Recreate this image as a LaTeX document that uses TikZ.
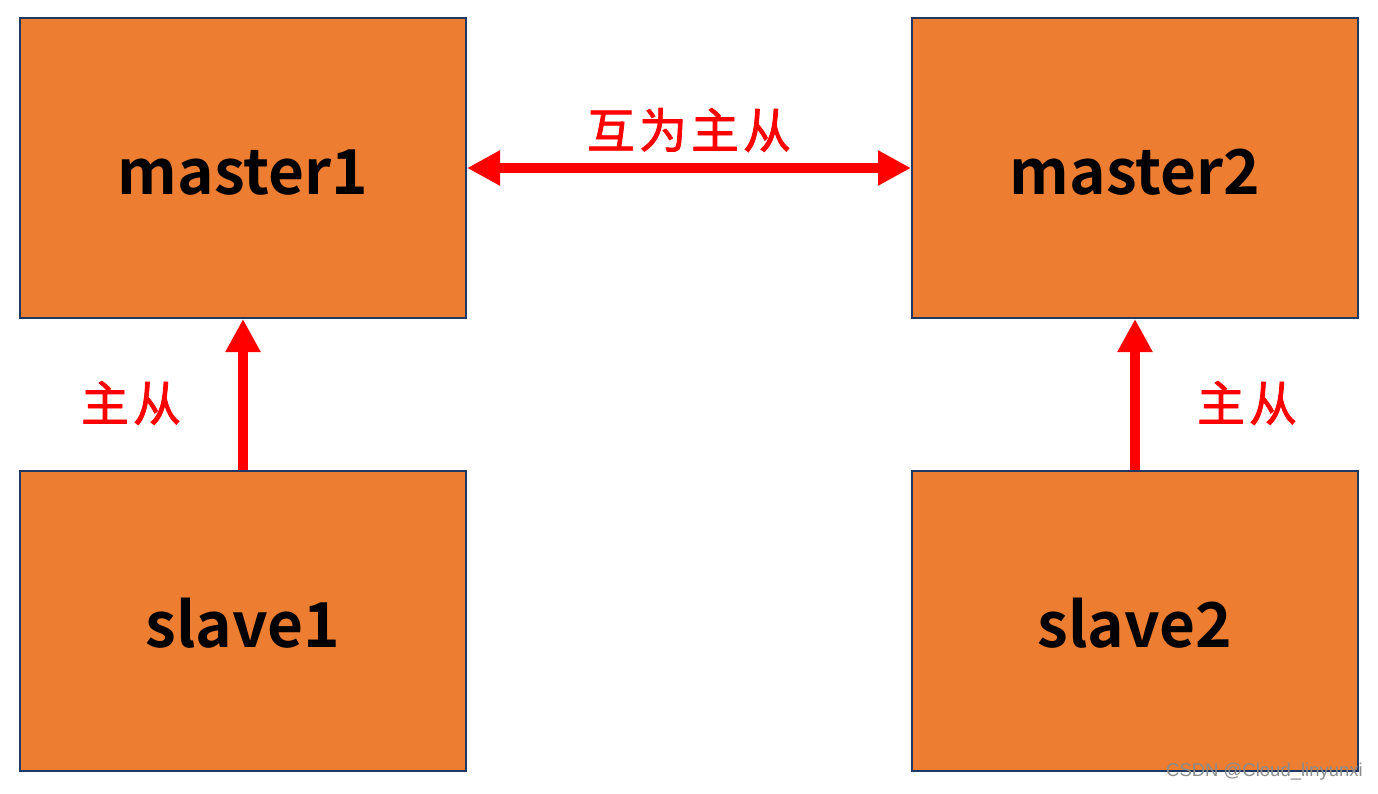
\documentclass[tikz,border=0pt]{standalone}
\usepackage{fontspec}
\setmainfont{Liberation Sans}
\newfontfamily\cjk{Noto Sans CJK SC}[BoldFont={* Bold}]
\newfontfamily\cjkmed{Noto Sans CJK SC}[FakeBold=1.6]
\usetikzlibrary{arrows.meta}
\definecolor{boxfill}{HTML}{ED7D31}
\definecolor{boxline}{HTML}{203864}
\begin{document}
\begin{tikzpicture}[x=1pt,y=-1pt,
  box/.style={draw=boxline,line width=2pt,fill=boxfill,minimum width=446pt,minimum height=300pt,inner sep=0pt,
    text height=52pt,text depth=0pt,font=\cjk\bfseries\fontsize{62}{62}\selectfont},
  conn/.style={draw=red,line width=10pt,-{Triangle[length=33pt,width=33pt]}},
  lbl/.style={text=red,font=\cjkmed\fontsize{48}{48}\selectfont,inner sep=0pt}]
\useasboundingbox (0,0) rectangle (1378,793);
\node[box] (m1) at (243,168) {master1};
\node[box] (m2) at (1135,168) {master2};
\node[box] (s1) at (243,621) {slave1};
\node[box] (s2) at (1135,621) {slave2};
\draw[conn,{Triangle[length=33pt,width=33pt]}-{Triangle[length=33pt,width=33pt]}] (m1.east) -- (m2.west);
\draw[conn] (s1.north) -- (m1.south);
\draw[conn] (s2.north) -- (m2.south);
\node[lbl] (l0) at (689,130) {互\kern4pt 为\kern4pt 主\kern4pt 从};
\node[lbl] (l1) at (131,403) {主\kern4pt 从};
\node[lbl] (l2) at (1247,403) {主\kern4pt 从};
\node[text=gray!90,font=\fontsize{18.5}{18.5}\selectfont,anchor=east,inner sep=0pt] (wm) at (1363,772) {CSDN @Cloud\_linyunxi};
\end{tikzpicture}
\end{document}
